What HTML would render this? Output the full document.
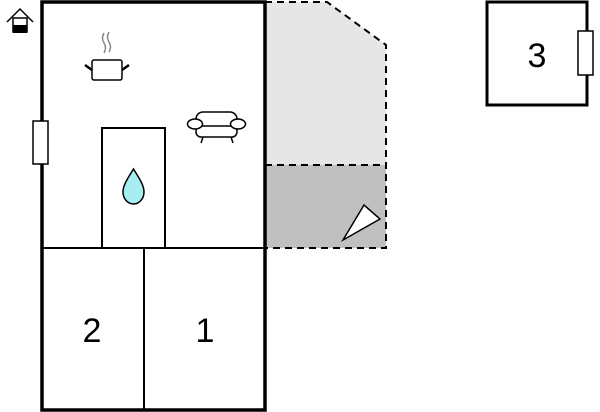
<!DOCTYPE html>
<html><head><style>body{margin:0;background:#fff}svg{display:block}</style></head><body>
<svg width="600" height="412" viewBox="0 0 600 412" xmlns="http://www.w3.org/2000/svg">
<polygon points="265,2 327,2 386,45 386,165 265,165" fill="#e6e6e6"/>
<rect x="265" y="165" width="121" height="83" fill="#c0c0c0"/>
<polyline points="265,2 327,2 386,45 386,248 265,248" fill="none" stroke="#000" stroke-width="2" stroke-dasharray="7,5"/>
<line x1="265" y1="165" x2="386" y2="165" stroke="#000" stroke-width="2" stroke-dasharray="7,5"/>
<polygon points="343,240 364,205 380,219" fill="#fff" stroke="#000" stroke-width="1.5"/>
<rect x="42" y="2" width="223" height="408" fill="#fff" stroke="#000" stroke-width="3.5"/>
<line x1="42" y1="248" x2="265" y2="248" stroke="#000" stroke-width="2"/>
<line x1="144" y1="248" x2="144" y2="410" stroke="#000" stroke-width="2"/>
<rect x="102" y="128" width="63" height="120" fill="#fff" stroke="#000" stroke-width="2"/>
<rect x="33" y="121" width="15" height="43" fill="#fff" stroke="#000" stroke-width="1.5"/>
<path d="M133.5,169 C128,178 123,185 123,192 C123,199 128,204 133.5,204 C139,204 144,199 144,192 C144,185 139,178 133.5,169Z" fill="#a6eef2" stroke="#000" stroke-width="1.5"/>
<g fill="none" stroke="#888" stroke-width="1.5"><path d="M104,33 q-3,5 0,10 q3,5 0,10"/><path d="M109,32 q-3,5 0,10 q3,5 0,10"/></g>
<rect x="92" y="60" width="30" height="20" rx="2" fill="#fff" stroke="#000" stroke-width="1.5"/>
<path d="M85,65 L92,70 M129,65 L122,70" stroke="#000" stroke-width="2.5"/>
<g fill="#fff" stroke="#000" stroke-width="1.5">
<rect x="196" y="112" width="41" height="16" rx="7"/>
<rect x="196" y="126" width="41" height="11" rx="5"/>
<ellipse cx="195" cy="124" rx="7.5" ry="5"/>
<ellipse cx="238" cy="124" rx="7.5" ry="5"/>
<path d="M203,137 L201,143 M231,137 L233,143"/>
</g>
<text x="92" y="342" font-family="Liberation Sans, sans-serif" font-size="34" text-anchor="middle">2</text>
<text x="205" y="342" font-family="Liberation Sans, sans-serif" font-size="34" text-anchor="middle">1</text>
<rect x="487" y="2" width="100" height="103" fill="#fff" stroke="#000" stroke-width="3"/>
<rect x="578" y="31" width="15" height="44" fill="#fff" stroke="#000" stroke-width="1.5"/>
<text x="537" y="67" font-family="Liberation Sans, sans-serif" font-size="34" text-anchor="middle">3</text>
<path d="M7,22 L20,9 L33,22" fill="none" stroke="#000" stroke-width="1.5"/>
<rect x="13" y="18" width="14" height="14" fill="#fff" stroke="#000" stroke-width="1.5"/>
<rect x="13" y="25" width="14" height="8" fill="#000"/>
</svg>
</body></html>
